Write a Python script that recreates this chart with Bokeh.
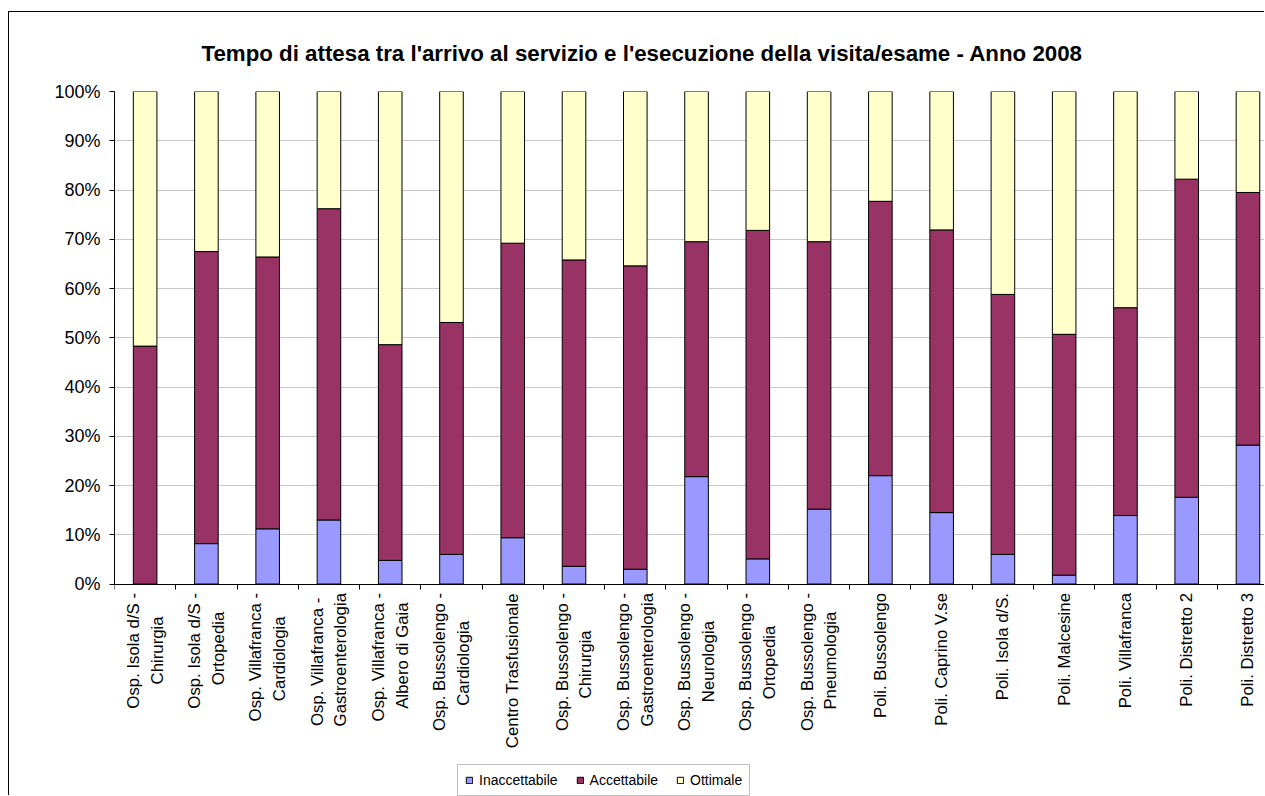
from bokeh.plotting import figure
from bokeh.models import (Range1d, FixedTicker, PrintfTickFormatter, Legend,
                          LegendItem, Title, ColumnDataSource)
from bokeh.embed import file_html
from bokeh.resources import INLINE

categories = [
    "Osp. Isola d/S -\nChirurgia",
    "Osp. Isola d/S -\nOrtopedia",
    "Osp. Villafranca -\nCardiologia",
    "Osp. Villafranca -\nGastroenterologia",
    "Osp. Villafranca -\nAlbero di Gaia",
    "Osp. Bussolengo -\nCardiologia",
    "Centro Trasfusionale",
    "Osp. Bussolengo -\nChirurgia",
    "Osp. Bussolengo -\nGastroenterologia",
    "Osp. Bussolengo -\nNeurologia",
    "Osp. Bussolengo -\nOrtopedia",
    "Osp. Bussolengo -\nPneumologia",
    "Poli. Bussolengo",
    "Poli. Caprino V.se",
    "Poli. Isola d/S.",
    "Poli. Malcesine",
    "Poli. Villafranca",
    "Poli. Distretto 2",
    "Poli. Distretto 3",
]
inaccettabile = [0.0, 8.2, 11.2, 13.0, 4.8, 6.0, 9.4, 3.6, 3.0, 21.8, 5.1, 15.2,
                 22.0, 14.5, 6.0, 1.8, 13.9, 17.6, 28.2]
accettabile = [48.3, 59.3, 55.2, 63.2, 43.8, 47.1, 59.8, 62.2, 61.6, 47.7, 66.7,
               54.3, 55.7, 57.4, 52.8, 48.9, 42.2, 64.6, 51.3]
ottimale = [51.7, 32.5, 33.6, 23.8, 51.4, 46.9, 30.8, 34.2, 35.4, 30.5, 28.2,
            30.5, 22.3, 28.1, 41.2, 49.3, 43.9, 17.8, 20.5]
series_names = ["Inaccettabile", "Accettabile", "Ottimale"]
series_colors = ["#9999FF", "#993366", "#FFFFCC"]
y_ticks = list(range(0, 101, 10))
title_text = "Tempo di attesa tra l'arrivo al servizio e l'esecuzione della visita/esame - Anno 2008"

FONT = "Liberation Sans"

# approximate Arial/Liberation Sans advance widths (1/1000 em), used only to
# centre the shorter line of a two-line tick label under the longer one
_W = {" ": 278, "-": 333, ".": 278, "/": 278, "A": 667, "B": 667, "C": 722,
      "D": 722, "G": 778, "I": 278, "N": 722, "O": 778, "P": 667, "S": 667,
      "T": 611, "V": 667, "a": 556, "b": 556, "c": 500, "d": 556, "e": 556,
      "f": 278, "g": 556, "h": 556, "i": 222, "l": 222, "m": 833, "n": 556,
      "o": 556, "p": 556, "r": 333, "s": 500, "t": 278, "u": 556, "v": 500,
      "z": 500}


def _width(s):
    return sum(_W.get(ch, 556) for ch in s)


def centred(label):
    lines = label.split("\n")
    if len(lines) == 1:
        return label
    lmax = max(_width(l) for l in lines)
    out = []
    for l in lines:
        pad = int(round((lmax - _width(l)) / 2 / 278))
        out.append(l + "\u00a0" * pad)
    return "\n".join(out)


n = len(categories)
xs = [i + 0.5 for i in range(n)]
source = ColumnDataSource(dict(x=xs, Inaccettabile=inaccettabile,
                               Accettabile=accettabile, Ottimale=ottimale))

# plot frame reaches the bottom of the canvas; 0 % sits 212.5 px above it
H, TOP = 784, 79
px_per_unit = 492.5 / 100.0
y_low = -(H - TOP - 492.5) / px_per_unit

p = figure(width=1256, height=H, output_backend="svg", toolbar_location=None,
           x_range=Range1d(0, 18.786), y_range=Range1d(y_low, 100),
           min_border_left=105, min_border_right=0, min_border_top=TOP,
           min_border_bottom=0)
p.styles = {"margin-left": "8px", "margin-top": "11px",
            "border-left": "1px solid black", "border-top": "1px solid black"}
p.outline_line_color = None
p.background_fill_color = "white"
p.border_fill_color = "white"

renderers = p.vbar_stack(series_names, x="x", width=0.385, source=source,
                         fill_color=series_colors, line_color="black",
                         line_width=1)

# title
tw = 22.3 * 39.6
p.title = Title(text=title_text, align="left", offset=642.5 - 114 - tw / 2,
                text_font=FONT, text_font_size="22.3px", text_font_style="bold",
                text_color="black", standoff=52)

# axes
xa = p.xaxis[0]
xa.fixed_location = 0
xa.ticker = FixedTicker(ticks=xs, minor_ticks=list(range(0, n)))
xa.major_label_overrides = {x: centred(c) for x, c in zip(xs, categories)}
xa.major_label_orientation = 3.14159265 / 2
xa.major_tick_out = 0
xa.major_tick_in = 0
xa.minor_tick_out = 5
xa.minor_tick_in = 0
xa.minor_tick_line_color = "black"
xa.axis_line_color = "black"
xa.major_label_text_font = FONT
xa.major_label_text_font_size = "16.8px"
xa.major_label_text_color = "black"
xa.major_label_text_line_height = 1.25
xa.major_label_standoff = 4

ya = p.yaxis[0]
ya.bounds = (0, 100)
ya.ticker = FixedTicker(ticks=y_ticks, minor_ticks=[])
ya.formatter = PrintfTickFormatter(format="%d%%")
ya.major_tick_out = 5
ya.major_tick_in = 0
ya.major_tick_line_color = "black"
ya.axis_line_color = "black"
ya.major_label_text_font = FONT
ya.major_label_text_font_size = "18px"
ya.major_label_text_color = "black"
ya.major_label_standoff = 9

p.xgrid.grid_line_color = None
p.ygrid.grid_line_color = "#C8C8C8"
p.ygrid.ticker = FixedTicker(ticks=y_ticks)

legend = Legend(items=[LegendItem(label=nm, renderers=[r])
                       for nm, r in zip(series_names, renderers)],
                orientation="horizontal", location=(343, 0),
                label_text_font=FONT, label_text_font_size="14px",
                label_text_color="black", glyph_width=8, glyph_height=8,
                label_standoff=6, spacing=18, padding=7, margin=0,
                label_height=14, border_line_color="#808080",
                border_line_width=1, background_fill_color="white",
                background_fill_alpha=1)
p.add_layout(legend)

open("out.html", "w").write(file_html(p, INLINE))
